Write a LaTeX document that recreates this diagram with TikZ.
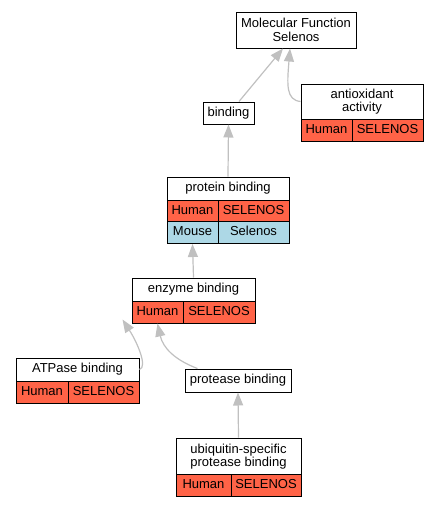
\documentclass[tikz,border=0pt]{standalone}
\usepackage{fontspec}
\setmainfont{Liberation Sans}
\usetikzlibrary{arrows.meta}
\definecolor{tomato}{RGB}{255,99,71}
\definecolor{lightblue}{RGB}{173,216,230}
\definecolor{edgegray}{RGB}{192,192,192}

\begin{document}
\begin{tikzpicture}[x=1pt, y=-1pt,
        font=\fontsize{13}{13.5}\selectfont,
        term/.style={draw, line width=1pt, fill=white, inner sep=0pt, align=center},
        line/.style={text height=9.4pt, text depth=2.8pt},
        cell/.style={draw, line width=1pt, inner sep=0pt, minimum height=22, line},
        human/.style={cell, fill=tomato},
        mouse/.style={cell, fill=lightblue},
        isa/.style={draw=edgegray, line width=1.2pt, -{Triangle[length=13pt, width=10pt]}}]
        \useasboundingbox (0,0) rectangle (437,507);

        \node[term, minimum width=120, minimum height=36] (MF) at (296,30) {Molecular Function\\Selenos};
        \node[term, line, minimum width=51, minimum height=22] (BIND) at (228.5,113) {binding};

        \node[term, minimum width=122, minimum height=35] (ANTI) at (362,101.5) {antioxidant\\activity};
        \node[human, minimum width=51] (ANTIh) at (326.5,130) {Human};
        \node[human, minimum width=71] (ANTIs) at (387.5,130) {SELENOS};

        \node[term, line, minimum width=122, minimum height=23] (PROT) at (228,188.5) {protein binding};
        \node[human, minimum width=51] (PROTh) at (192.5,211) {Human};
        \node[human, minimum width=71] (PROTs) at (253.5,211) {SELENOS};
        \node[mouse, minimum width=51] (PROTm) at (192.5,232.5) {Mouse};
        \node[mouse, minimum width=71] (PROTg) at (253.5,232.5) {Selenos};

        \node[term, line, minimum width=123, minimum height=23] (ENZ) at (193.5,289.5) {enzyme binding};
        \node[human, minimum width=51] (ENZh) at (157.5,312) {Human};
        \node[human, minimum width=72] (ENZs) at (219,312) {SELENOS};

        \node[term, line, minimum width=123, minimum height=23] (ATP) at (77.5,369.5) {ATPase binding};
        \node[human, minimum width=52] (ATPh) at (42,392) {Human};
        \node[human, minimum width=71] (ATPs) at (103.5,392) {SELENOS};

        \node[term, line, minimum width=106, minimum height=23] (PTASE) at (238,380.5) {protease binding};

        \node[term, minimum width=125, minimum height=37] (UBQ) at (238.5,456.5) {ubiquitin-specific\\protease binding};
        \node[human, minimum width=55] (UBQh) at (203.5,485.5) {Human};
        \node[human, minimum width=70] (UBQs) at (266,485.5) {SELENOS};

        \draw[isa] ([xshift=10.5pt]BIND.north) -- ([xshift=-13pt]MF.south);
        \draw[isa] (ANTI.west) .. controls (286,100) and (287,85) .. ([xshift=-6pt]MF.south);
        \draw[isa] (PROT.north) -- (BIND.south);
        \draw[isa] (ENZ.north) -- (PROTm.south);
        \draw[isa] (ATP.east) .. controls (148,367) and (137,342) .. ([shift={(-9,-4)}]ENZh.south west);
        \draw[isa] ([xshift=13pt]PTASE.north west) .. controls (175,360) and (163,348) .. (ENZh.south);
        \draw[isa] (UBQ.north) -- (PTASE.south);

    \end{tikzpicture}
\end{document}
